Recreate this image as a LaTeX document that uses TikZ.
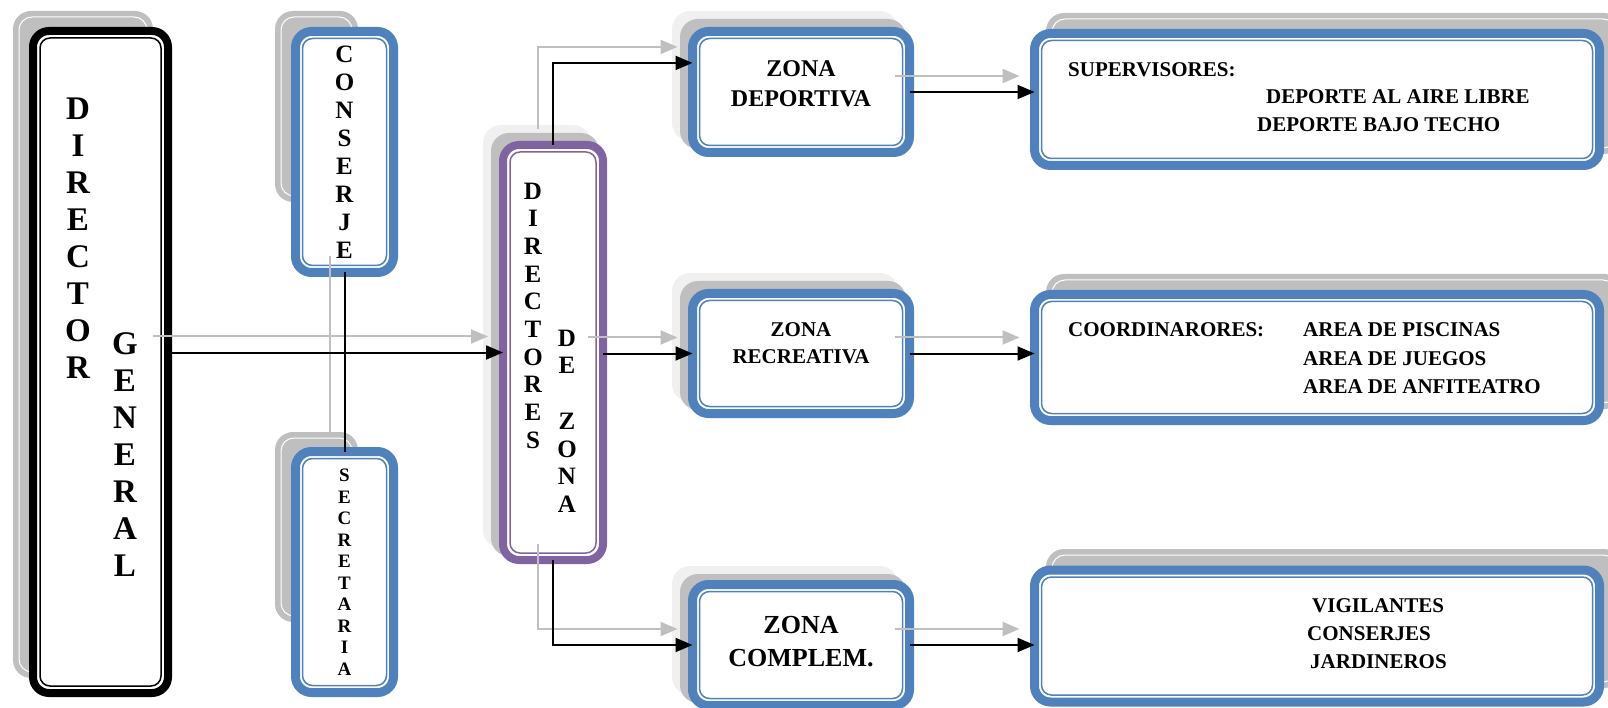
\documentclass[tikz,border=0pt]{standalone}
\usepackage{fontspec}
\setmainfont{Liberation Serif}
\usetikzlibrary{arrows.meta}

\definecolor{ofblue}{HTML}{4F81BD}
\definecolor{ofpurple}{HTML}{8064A2}
\definecolor{shgray}{HTML}{BFBFBF}
\definecolor{shlight}{HTML}{F0F0F0}

\tikzset{
  box/.style={draw=#1, fill=white, line width=9pt, rounded corners=16pt,
    inner sep=0pt, outer sep=0pt,
    path picture={\draw[draw=#1, line width=1.5pt, rounded corners=10pt]
      ([shift={(7pt,-7pt)}]path picture bounding box.north west) rectangle
      ([shift={(-7pt,7pt)}]path picture bounding box.south east);}},
  vtxt/.style={inner sep=0pt, anchor=north, align=center},
  ztxt/.style={inner sep=0pt, align=center},
  rtxt/.style={inner sep=0pt, anchor=base west, font=\bfseries\fontsize{21}{28}\selectfont},
  conn/.style={line width=2pt, -{Triangle[length=17pt,width=14pt]}},
  offs/.style={shift={(\dx,\dy)}}
}

\begin{document}
\begin{tikzpicture}[x=1pt, y=-1pt]
    \useasboundingbox (0,0) rectangle (1608,708);

    % sombras
    \foreach \xa/\ya/\xb/\yb in {13/11/153/678, 275/11/358/202, 275/432/358/622,
        1046/13/1622/154, 1046/274/1622/409, 1046/549/1622/688} {
      \fill[shgray, rounded corners=18pt] (\xa,\ya) rectangle (\xb,\yb);
      \draw[white, line width=1pt, rounded corners=13pt] (\xa+6,\ya+6) rectangle (\xb-6,\yb-6);
    }
    \foreach \xa/\ya/\xb/\yb in {499/141/607/564, 688/27/914/157, 688/289/914/418, 688/582/914/711} {
      \fill[shlight, rounded corners=18pt] (\xa-16,\ya-16) rectangle (\xb-16,\yb-16);
      \fill[shgray, rounded corners=18pt] (\xa-8,\ya-8) rectangle (\xb-8,\yb-8);
    }

    % cajas
    \node[box=black, line width=8pt, minimum width=135pt, minimum height=662pt] (dg) at (100.5,362) {};
    \node[box=ofblue, minimum width=98pt, minimum height=241pt, align=center,
          font=\bfseries\fontsize{25}{28}\selectfont] (conserje) at (344.5,152) {C\\O\\N\\S\\E\\R\\J\\E};
    \node[box=ofblue, minimum width=98pt, minimum height=241pt, align=center,
          font=\bfseries\fontsize{19}{21.5}\selectfont] (secretaria) at (344.5,572) {S\\E\\C\\R\\E\\T\\A\\R\\I\\A};
    \node[box=ofpurple, line width=8pt, minimum width=100pt, minimum height=415pt] (ddz) at (553,352.5) {};
    \node[box=ofblue, minimum width=217pt, minimum height=121pt] (dep) at (801,92) {};
    \node[box=ofblue, minimum width=217pt, minimum height=120pt] (rec) at (801,353.5) {};
    \node[box=ofblue, minimum width=217pt, minimum height=121pt] (comp) at (801,645) {};
    \node[box=ofblue, minimum width=565pt, minimum height=132pt] (sup) at (1317,99.5) {};
    \node[box=ofblue, minimum width=565pt, minimum height=126pt] (coor) at (1317,357.5) {};
    \node[box=ofblue, minimum width=565pt, minimum height=132pt] (apoyo) at (1317,636) {};

    % textos
    \node[vtxt, font=\bfseries\fontsize{33}{37}\selectfont] (dirtxt) at (78,97.5) {D\\I\\R\\E\\C\\T\\O\\R};
    \node[vtxt, font=\bfseries\fontsize{33}{37}\selectfont] (gentxt) at (125,332.5) {G\\E\\N\\E\\R\\A\\L};
    \node[vtxt, font=\bfseries\fontsize{25}{27.7}\selectfont] (dirztxt) at (533,182.5) {D\\I\\R\\E\\C\\T\\O\\R\\E\\S};
    \node[vtxt, font=\bfseries\fontsize{25}{27.7}\selectfont] (dezontxt) at (567,329.7) {D\\E\\[27.7pt]Z\\O\\N\\A};
    \node[ztxt, font=\bfseries\fontsize{24}{30}\selectfont] (deptxt) at ([yshift=8pt]dep.center) {ZONA\\DEPORTIVA};
    \node[ztxt, font=\bfseries\fontsize{21}{27}\selectfont] (rectxt) at ([yshift=10pt]rec.center) {ZONA\\RECREATIVA};
    \node[ztxt, font=\bfseries\fontsize{26}{33}\selectfont] (comptxt) at ([yshift=3.5pt]comp.center) {ZONA\\COMPLEM.};

    \node[rtxt] (suptxt) at (1068,77) {SUPERVISORES:};
    \node[rtxt] (aire) at (1266,104) {DEPORTE AL AIRE LIBRE};
    \node[rtxt] (techo) at (1257,132) {DEPORTE BAJO TECHO};
    \node[rtxt] (coortxt) at (1068,337) {COORDINARORES:};
    \node[rtxt] (piscinas) at (1303,337) {AREA DE PISCINAS};
    \node[rtxt] (juegos) at (1303,365) {AREA DE JUEGOS};
    \node[rtxt] (anfi) at (1303,393) {AREA DE ANFITEATRO};
    \node[rtxt] (vigil) at (1312,612) {VIGILANTES};
    \node[rtxt] (consj) at (1307,640) {CONSERJES};
    \node[rtxt] (jard) at (1310,668) {JARDINEROS};

    % conectores (sombra gris y linea negra)
    \coordinate (dgout) at (dg.east |- ddz.west);
    \coordinate (recout) at (ddz.east |- rec.west);
    \coordinate (supin) at (dep.east -| sup.west);
    \coordinate (coorin) at (rec.east -| coor.west);
    \coordinate (apoyoin) at (comp.east -| apoyo.west);

    \foreach \dx/\dy/\lc in {-15/-16/shgray, 0/0/black} {
      \draw[conn, color=\lc] ([offs]dgout) -- ([offs]ddz.west);
      \draw[conn, color=\lc] ([offs]ddz.north) |- ([offs]dep.165);
      \draw[conn, color=\lc] ([offs]recout) -- ([offs]rec.west);
      \draw[conn, color=\lc] ([offs]ddz.south) |- ([offs]comp.west);
      \draw[conn, color=\lc] ([offs]dep.east) -- ([offs]supin);
      \draw[conn, color=\lc] ([offs]rec.east) -- ([offs]coorin);
      \draw[conn, color=\lc] ([offs]comp.east) -- ([offs]apoyoin);
      \draw[line width=2pt, color=\lc] ([offs]conserje.south) -- ([offs]secretaria.north);
    }
\end{tikzpicture}
\end{document}
